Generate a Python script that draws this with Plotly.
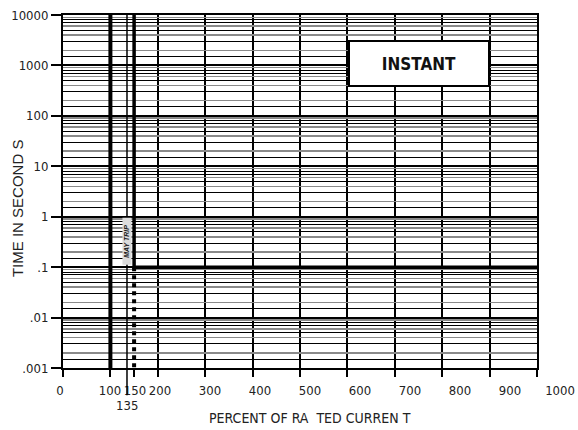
import plotly.graph_objects as go

# ---- data ----
x_tick_values = [0, 100, 150, 200, 300, 400, 500, 600, 700, 800, 900, 1000]
x_tick_labels = ["0", "100", "150", "200", "300", "400", "500", "600", "700", "800", "900", "1000"]
x_grid_values = [0, 100, 200, 300, 400, 500, 600, 700, 800, 900, 1000]
x_minor_tick_values = [150]

y_tick_values = [0.001, 0.01, 0.1, 1, 10, 100, 1000, 10000]
y_tick_labels = [".001", ".01", ".1", "1", "10", "100", "1000", "10000"]
minor_black_mantissas = [1.5, 3, 5, 7, 8]
minor_grey_mantissas = [2, 4, 6, 9]

no_trip_x = [100, 100]
no_trip_y = [0.001, 10000]
trip_x = [150, 150, 1000]
trip_y = [10000, 0.1, 0.1]
trip_dashed_x = [150, 150]
trip_dashed_y = [0.1, 0.001]
marker_line_value = 135

# ---- derived grids ----
decades = y_tick_values[:-1]
minor_black = [d * m for d in decades for m in minor_black_mantissas]
minor_grey = [d * m for d in decades for m in minor_grey_mantissas]

NARROW = "DejaVu Sans Condensed, Liberation Sans Narrow, sans-serif"
REGULAR = "Liberation Sans, Arial, sans-serif"
TXT = "#222222"

W, H = 578, 430
plot_left, plot_right, plot_top, plot_bottom = 63, 537, 15, 368
label_left, label_right = 60, 560
xdom = [plot_left / W, plot_right / W]
ydom = [1 - plot_bottom / H, 1 - plot_top / H]

fig = go.Figure()

fig.add_trace(go.Scatter(x=no_trip_x, y=no_trip_y, mode="lines",
                         line=dict(color="black", width=4),
                         hoverinfo="skip", showlegend=False))
fig.add_trace(go.Scatter(x=trip_x, y=trip_y, mode="lines",
                         line=dict(color="black", width=3.5),
                         hoverinfo="skip", showlegend=False))
fig.add_trace(go.Scatter(x=trip_dashed_x, y=trip_dashed_y, mode="lines",
                         line=dict(color="black", width=4, dash="4px,4px"),
                         hoverinfo="skip", showlegend=False))
# empty traces so the label axis and the grey-grid overlay get their subplots
fig.add_trace(go.Scatter(x=[], y=[], xaxis="x2", yaxis="y3", mode="lines",
                         hoverinfo="skip", showlegend=False))
fig.add_trace(go.Scatter(x=[], y=[], xaxis="x", yaxis="y2", mode="lines",
                         hoverinfo="skip", showlegend=False))

# 135 % marker line, extending below the axis
fig.add_shape(type="line", xref="x", yref="y domain",
              x0=marker_line_value, x1=marker_line_value, y0=-0.077, y1=1,
              line=dict(color="black", width=1.5))

axis_common = dict(zeroline=False, fixedrange=True, automargin=False)

fig.update_layout(
    template="none",
    width=W, height=H, autosize=False,
    margin=dict(l=0, r=0, t=0, b=0, pad=0),
    paper_bgcolor="white", plot_bgcolor="rgba(0,0,0,0)",
    showlegend=False,
    font=dict(family=NARROW, size=13, color=TXT),
    xaxis=dict(
        domain=xdom, range=[0, 1000], anchor="y",
        tickmode="array", tickvals=x_grid_values, showticklabels=False,
        ticks="outside", ticklen=7, tickwidth=2, tickcolor="black",
        showgrid=True, gridcolor="black", gridwidth=2,
        showline=True, mirror=True, linecolor="black", linewidth=2,
        minor=dict(tickmode="array", tickvals=x_minor_tick_values, ticks="outside",
                   ticklen=7, tickwidth=2, tickcolor="black", showgrid=False),
        **axis_common),
    yaxis=dict(
        domain=ydom, type="log", range=[-3, 4], anchor="x",
        tickmode="array", tickvals=y_tick_values, ticktext=y_tick_labels,
        ticks="outside", ticklen=10, tickwidth=2, tickcolor="black",
        tickfont=dict(family=NARROW, size=13, color=TXT),
        ticklabeloverflow="allow",
        showgrid=True, gridcolor="black", gridwidth=2,
        showline=True, mirror=True, linecolor="black", linewidth=2,
        minor=dict(tickmode="array", tickvals=minor_black, ticks="",
                   showgrid=True, gridcolor="black", gridwidth=1),
        **axis_common),
    yaxis2=dict(
        overlaying="y", type="log", range=[-3, 4], anchor="x",
        tickmode="array", tickvals=minor_grey, showticklabels=False, ticks="",
        showgrid=True, gridcolor="#8a8a8a", gridwidth=1.5, showline=False,
        **axis_common),
    xaxis2=dict(
        domain=[label_left / W, label_right / W], range=[0, 1000], anchor="y3",
        tickmode="array", tickvals=x_tick_values, ticktext=x_tick_labels,
        ticks="outside", ticklen=10, tickcolor="rgba(0,0,0,0)",
        tickfont=dict(family=NARROW, size=13, color=TXT),
        ticklabeloverflow="allow",
        showgrid=False, showline=False, **axis_common),
    yaxis3=dict(
        domain=ydom, range=[0, 1], anchor="x2",
        showgrid=False, showline=False, showticklabels=False, ticks="",
        **axis_common),
)

fig.add_annotation(text=str(marker_line_value), xref="x", x=marker_line_value,
                   yref="y domain", y=-0.106, yanchor="middle", showarrow=False,
                   font=dict(family=NARROW, size=13, color=TXT))
fig.add_annotation(text="PERCENT OF RA\u00a0\u00a0TED CURREN T",
                   xref="x2 domain", x=0.5, yref="y domain", y=-0.142,
                   yanchor="middle", showarrow=False,
                   font=dict(family=NARROW, size=14, color=TXT))
fig.add_annotation(text="TIME IN SECOND S", textangle=-90,
                   xref="paper", x=17 / W, xanchor="center",
                   yref="y domain", y=0.453, yanchor="middle", showarrow=False,
                   font=dict(family=REGULAR, size=15, color=TXT))
fig.add_annotation(text="<b>INSTANT</b>", xref="x", x=750, yref="y", y=3.03,
                   showarrow=False, width=138, height=43, borderpad=0,
                   bordercolor="black", borderwidth=2, bgcolor="white",
                   font=dict(family=NARROW, size=17, color="#111111"))
fig.add_annotation(text="<b><i>MAY TRIP</i></b>", textangle=-90,
                   xref="x", x=150, xanchor="right", xshift=-2,
                   yref="y", y=-1, yanchor="bottom", yshift=2,
                   showarrow=False, width=46, height=8, borderpad=0,
                   bgcolor="#dcdcdc",
                   font=dict(family=REGULAR, size=7, color="#222222"))

fig.write_html(
    "out.html",
    config={"displayModeBar": False, "staticPlot": True},
    post_script="document.documentElement.style.overflow='hidden';"
                "document.body.style.margin='0';"
                "document.body.style.overflow='hidden';",
)
